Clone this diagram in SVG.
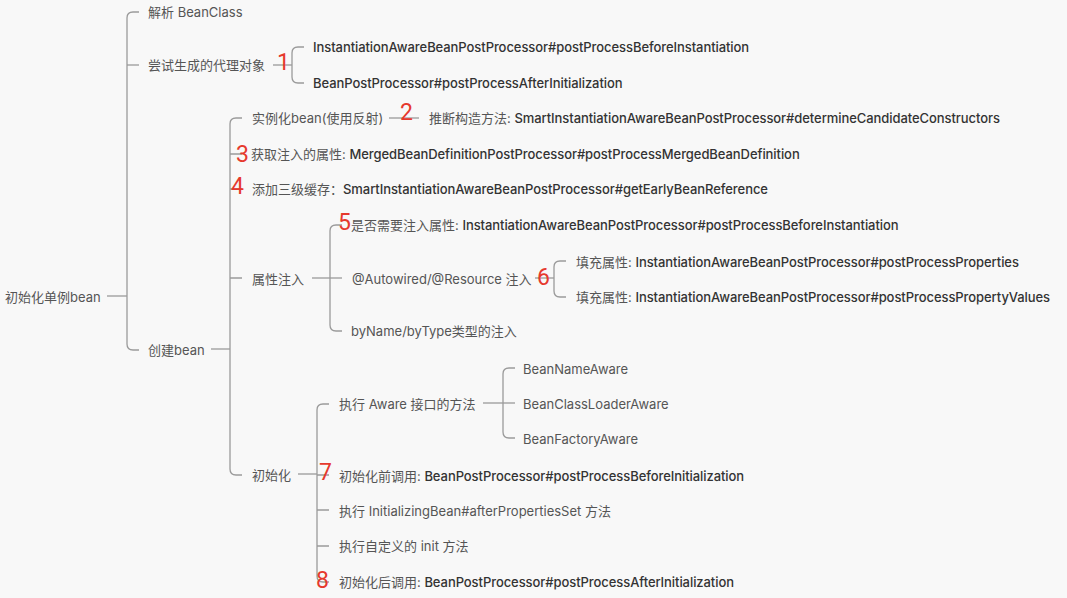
<svg xmlns="http://www.w3.org/2000/svg" width="1067" height="598" viewBox="0 0 1067 598">
<style>
.t{font-family:Inter,"Noto Sans CJK SC",sans-serif;font-size:13px;fill:#555}
.c{fill:#333;font-weight:500;letter-spacing:-0.07px}
.n{font-family:Roboto,"Liberation Sans",sans-serif;font-size:23px;fill:#e6392d}
.l{fill:none;stroke:#9a9a9a;stroke-width:1.3}
</style>
<rect width="1067" height="598" fill="#f8f8f8"/>
<g id="connectors" class="l">
<path d="M107,296 H127"/>
<path d="M139,12 H133 Q127,12 127,18 V344 Q127,350 133,350 H139"/>
<path d="M127,65 H139"/>
<path d="M273,65 H292"/>
<path d="M304,47 H298 Q292,47 292,53 V77 Q292,83 298,83 H304"/>
<path d="M211,349 H230"/>
<path d="M242,118 H236 Q230,118 230,124 V469 Q230,475 236,475 H242"/>
<path d="M230,154 H242 M230,189 H242 M230,278 H242"/>
<path d="M389,118 H419"/>
<path d="M312,278 H330"/>
<path d="M342,225 H336 Q330,225 330,231 V325 Q330,331 336,331 H342"/>
<path d="M330,278 H342"/>
<path d="M535,278 H554"/>
<path d="M566,261 H560 Q554,261 554,267 V291 Q554,297 560,297 H566"/>
<path d="M298,474 H317"/>
<path d="M329,404 H323 Q317,404 317,410 V576 Q317,582 323,582 H329"/>
<path d="M317,475 H329 M317,510 H329 M317,546 H329"/>
<path d="M483,403 H503"/>
<path d="M515,368 H509 Q503,368 503,374 V432 Q503,438 509,438 H515"/>
<path d="M503,403 H515"/>
</g>
<g id="root"><text class="t" x="5" y="301.5">初始化单例bean</text></g>
<g id="parse"><text class="t" x="148" y="16.5">解析 BeanClass</text></g>
<g id="proxy"><text class="t" x="148" y="69.5">尝试生成的代理对象</text><text class="n" x="277" y="69.5">1</text></g>
<g id="proxy-a"><text class="t c" x="313" y="52">InstantiationAwareBeanPostProcessor#postProcessBeforeInstantiation</text></g>
<g id="proxy-b"><text class="t c" x="313" y="87.5">BeanPostProcessor#postProcessAfterInitialization</text></g>
<g id="create"><text class="t" x="148" y="354.5">创建bean</text></g>
<g id="instantiate"><text class="t" x="252" y="123">实例化bean(使用反射)</text><text class="n" x="400" y="119.5">2</text></g>
<g id="ctor"><text class="t" x="429" y="123">推断构造方法: <tspan class="c">SmartInstantiationAwareBeanPostProcessor#determineCandidateConstructors</tspan></text></g>
<g id="merged"><text class="n" x="236" y="161.5">3</text><text class="t" x="251" y="159">获取注入的属性: <tspan class="c">MergedBeanDefinitionPostProcessor#postProcessMergedBeanDefinition</tspan></text></g>
<g id="cache"><text class="n" x="231" y="193.5">4</text><text class="t" x="252" y="194">添加三级缓存：<tspan class="c">SmartInstantiationAwareBeanPostProcessor#getEarlyBeanReference</tspan></text></g>
<g id="populate"><text class="t" x="252" y="284">属性注入</text></g>
<g id="need"><text class="n" x="338" y="229.5">5</text><text class="t" x="351" y="229.5">是否需要注入属性: <tspan class="c">InstantiationAwareBeanPostProcessor#postProcessBeforeInstantiation</tspan></text></g>
<g id="autowired"><text class="t" x="352" y="284">@Autowired/@Resource 注入</text><text class="n" x="537" y="285">6</text></g>
<g id="fill-a"><text class="t" x="576" y="266.5">填充属性: <tspan class="c">InstantiationAwareBeanPostProcessor#postProcessProperties</tspan></text></g>
<g id="fill-b"><text class="t" x="576" y="301.5">填充属性: <tspan class="c">InstantiationAwareBeanPostProcessor#postProcessPropertyValues</tspan></text></g>
<g id="byname"><text class="t" x="351" y="335.5">byName/byType类型的注入</text></g>
<g id="init"><text class="t" x="252" y="480">初始化</text></g>
<g id="aware"><text class="t" x="339" y="408.5">执行 Aware 接口的方法</text></g>
<g id="aware-a"><text class="t" x="523" y="373.5">BeanNameAware</text></g>
<g id="aware-b"><text class="t" x="523" y="408.5">BeanClassLoaderAware</text></g>
<g id="aware-c"><text class="t" x="523" y="443.5">BeanFactoryAware</text></g>
<g id="before"><text class="n" x="319" y="479.5">7</text><text class="t" x="339" y="480.5">初始化前调用: <tspan class="c">BeanPostProcessor#postProcessBeforeInitialization</tspan></text></g>
<g id="afterprops"><text class="t" x="339" y="515.5">执行 InitializingBean#afterPropertiesSet 方法</text></g>
<g id="initmethod"><text class="t" x="339" y="551">执行自定义的 init 方法</text></g>
<g id="after"><text class="n" x="316" y="587.5">8</text><text class="t" x="339" y="587">初始化后调用: <tspan class="c">BeanPostProcessor#postProcessAfterInitialization</tspan></text></g>
</svg>
